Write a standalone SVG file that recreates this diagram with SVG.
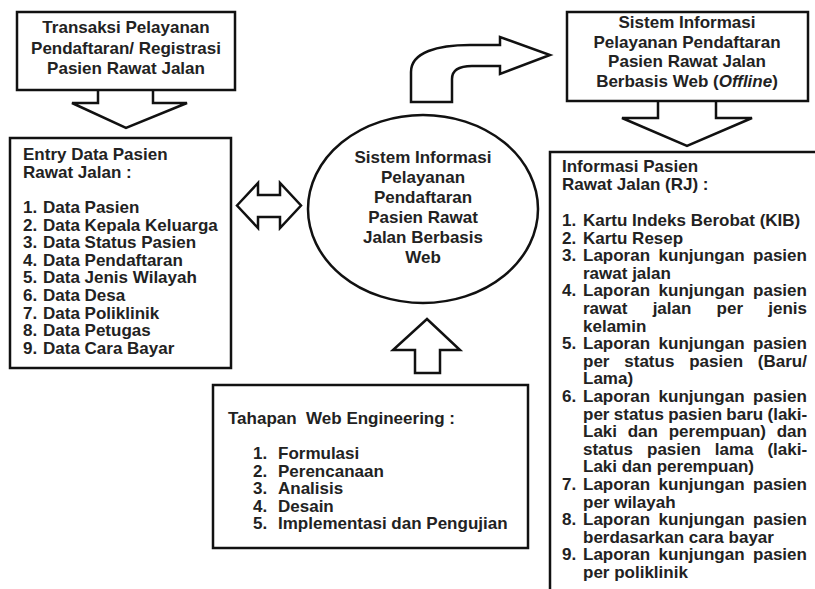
<svg xmlns="http://www.w3.org/2000/svg" width="815" height="589" viewBox="0 0 815 589">
<style>
.box{fill:#fff;stroke:#111;stroke-width:2.5}
.arr{fill:#fff;stroke:#111;stroke-width:2.5;stroke-linejoin:miter}
text{font-family:"Liberation Sans",Arial,sans-serif;font-weight:bold;font-size:17px;fill:#222}
.c{text-anchor:middle}
.pre{white-space:pre}
</style>
<rect width="815" height="589" fill="#fff"/>
<g id="connectors">
  <path class="arr" d="M98,90 L98,103 L72,103 L126,128 L187,103 L153,103 L153,90"/>
  <path class="arr" d="M658,101 L658,118 L622,118 L687,146 L752,118 L716,118 L716,101"/>
  <path class="arr" d="M415,373 L415,350 L393,350 L427,319 L460,350 L440,350 L440,373 Z"/>
  <path class="arr" d="M237,205.5 L258,183 L258,195 L280,195 L280,183 L301,205.5 L280,228 L280,217 L258,217 L258,228 Z"/>
  <path class="arr" d="M411,102 L411,72 C411,52 438,45 470,45 L500,45 L500,37 L550,55 L500,74 L500,66 L472,66 C459,66 452,70 452,79 L452,102 Z"/>
</g>
<g id="n-transaksi">
  <rect class="box" x="17" y="12" width="218" height="78"/>
  <text class="c" x="126" y="33">Transaksi Pelayanan</text>
  <text class="c" x="126" y="54">Pendaftaran/ Registrasi</text>
  <text class="c" x="126" y="74">Pasien Rawat Jalan</text>
</g>
<g id="n-sistem-offline">
  <rect class="box" x="567" y="12" width="241" height="89"/>
  <text class="c" x="687" y="28">Sistem Informasi</text>
  <text class="c" x="687" y="47.5">Pelayanan Pendaftaran</text>
  <text class="c" x="687" y="67">Pasien Rawat Jalan</text>
  <text class="c" x="687" y="86.5">Berbasis Web (<tspan font-style="italic">Offline</tspan>)</text>
</g>
<g id="n-entry">
  <rect class="box" x="10" y="138" width="221" height="230"/>
  <text x="23" y="160">Entry Data Pasien</text>
  <text x="23" y="178">Rawat Jalan :</text>
  <text x="23" y="213">1.</text><text x="43" y="213">Data Pasien</text>
  <text x="23" y="230.6">2.</text><text x="43" y="230.6">Data Kepala Keluarga</text>
  <text x="23" y="248.2">3.</text><text x="43" y="248.2">Data Status Pasien</text>
  <text x="23" y="265.8">4.</text><text x="43" y="265.8">Data Pendaftaran</text>
  <text x="23" y="283.4">5.</text><text x="43" y="283.4">Data Jenis Wilayah</text>
  <text x="23" y="301">6.</text><text x="43" y="301">Data Desa</text>
  <text x="23" y="318.6">7.</text><text x="43" y="318.6">Data Poliklinik</text>
  <text x="23" y="336.2">8.</text><text x="43" y="336.2">Data Petugas</text>
  <text x="23" y="353.8">9.</text><text x="43" y="353.8">Data Cara Bayar</text>
</g>
<g id="n-sistem">
  <ellipse class="box" cx="423" cy="209" rx="115" ry="94"/>
  <text class="c" x="423" y="163">Sistem Informasi</text>
  <text class="c" x="423" y="183">Pelayanan</text>
  <text class="c" x="423" y="203">Pendaftaran</text>
  <text class="c" x="423" y="223">Pasien Rawat</text>
  <text class="c" x="423" y="243">Jalan Berbasis</text>
  <text class="c" x="423" y="263">Web</text>
</g>
<g id="n-tahapan">
  <rect class="box" x="213" y="385" width="315" height="163"/>
  <text class="pre" x="228" y="424">Tahapan  Web Engineering :</text>
  <text x="253" y="459">1.</text><text x="278" y="459">Formulasi</text>
  <text x="253" y="476.5">2.</text><text x="278" y="476.5">Perencanaan</text>
  <text x="253" y="494">3.</text><text x="278" y="494">Analisis</text>
  <text x="253" y="511.5">4.</text><text x="278" y="511.5">Desain</text>
  <text x="253" y="529">5.</text><text x="278" y="529">Implementasi dan Pengujian</text>
</g>
<g id="n-informasi">
  <rect class="box" x="550" y="152" width="280" height="460"/>
  <text x="562" y="172">Informasi Pasien</text>
  <text x="562" y="190">Rawat Jalan (RJ) :</text>
  <text x="562" y="226">1.</text><text x="583" y="226">Kartu Indeks Berobat (KIB)</text>
  <text x="562" y="243.6">2.</text><text x="583" y="243.6">Kartu Resep</text>
  <text x="562" y="261.2">3.</text><text x="583" y="261.2" word-spacing="3.8">Laporan kunjungan pasien</text>
  <text x="583" y="278.8">rawat jalan</text>
  <text x="562" y="296.4">4.</text><text x="583" y="296.4" word-spacing="3.8">Laporan kunjungan pasien</text>
  <text x="583" y="314" word-spacing="20.5">rawat jalan per jenis</text>
  <text x="583" y="331.6">kelamin</text>
  <text x="562" y="349.2">5.</text><text x="583" y="349.2" word-spacing="3.8">Laporan kunjungan pasien</text>
  <text x="583" y="366.8" word-spacing="10.1">per status pasien (Baru/</text>
  <text x="583" y="384.4">Lama)</text>
  <text x="562" y="402">6.</text><text x="583" y="402" word-spacing="3.8">Laporan kunjungan pasien</text>
  <text x="583" y="419.6" word-spacing="-0.4">per status pasien baru (laki-</text>
  <text x="583" y="437.2" word-spacing="6">Laki dan perempuan) dan</text>
  <text x="583" y="454.8" word-spacing="9.2">status pasien lama (laki-</text>
  <text x="583" y="472.4">Laki dan perempuan)</text>
  <text x="562" y="490">7.</text><text x="583" y="490" word-spacing="3.8">Laporan kunjungan pasien</text>
  <text x="583" y="507.6">per wilayah</text>
  <text x="562" y="525.2">8.</text><text x="583" y="525.2" word-spacing="3.8">Laporan kunjungan pasien</text>
  <text x="583" y="542.8">berdasarkan cara bayar</text>
  <text x="562" y="560.4">9.</text><text x="583" y="560.4" word-spacing="3.8">Laporan kunjungan pasien</text>
  <text x="583" y="578">per poliklinik</text>
</g>
</svg>
